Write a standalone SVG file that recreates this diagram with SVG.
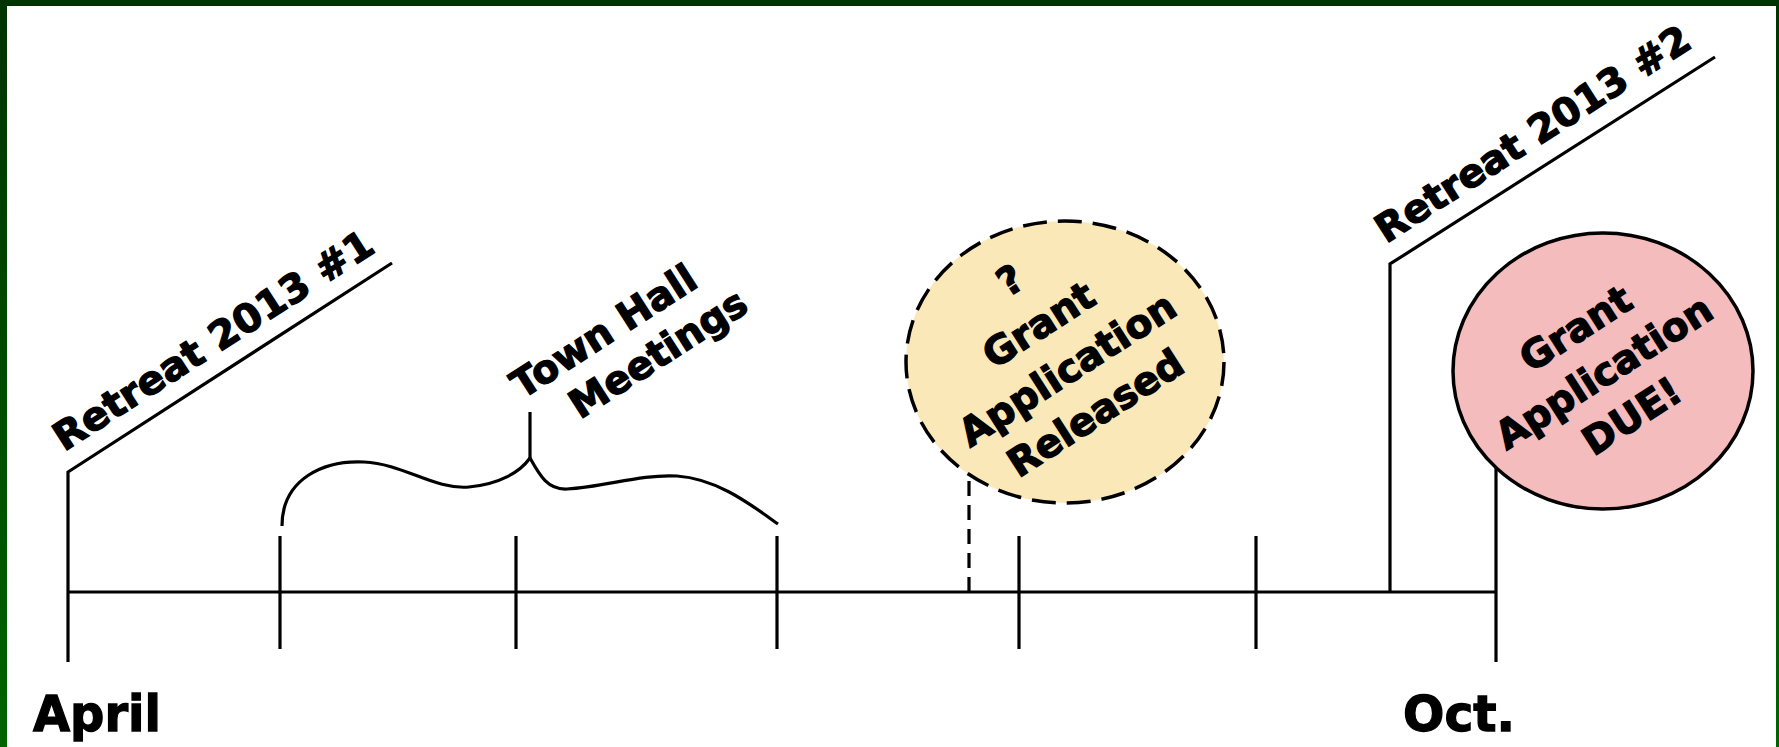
<svg xmlns="http://www.w3.org/2000/svg" width="1779" height="747" viewBox="0 0 1779 747">
<defs>
<linearGradient id="frame" x1="0" y1="0" x2="0" y2="1">
<stop offset="0" stop-color="#003300"/>
<stop offset="1" stop-color="#006400"/>
</linearGradient>
</defs>
<style>
.ln{fill:none;stroke:#000;stroke-width:3.2}
.t{font-family:"DejaVu Sans","Liberation Sans",sans-serif;font-weight:bold;fill:#000;stroke:#000;stroke-width:1.3}
.r{font-size:39px}
.c{font-size:39px;text-anchor:middle}
.m{font-size:50px}
</style>
<rect x="0" y="0" width="1779" height="747" fill="url(#frame)"/>
<rect x="7" y="6" width="1769" height="741" fill="#fff"/>
<g id="connectors">
<path class="ln" d="M68,592 H1496"/>
<path class="ln" d="M68,662 V472 L392,263"/>
<path class="ln" d="M1390,592 V264 L1715,57"/>
<path class="ln" d="M1496,662 V465"/>
<path class="ln" d="M280,536 V649 M516,536 V649 M777,536 V649 M1019,536 V649 M1256,536 V649"/>
<path class="ln" d="M969,592 V472" stroke-dasharray="15 9"/>
<path class="ln" d="M282,526 C282,478 325,460 364,462 C404,464 434,490 469,487 C500,484 520,472 530,458 C540,476 548,490 567,489 C605,487 640,474 677,476 C720,479 755,508 778,524"/>
<path class="ln" d="M530,458 V412"/>
</g>
<g id="retreat1">
<text class="t r" x="64" y="452" transform="rotate(-32.7 64 452)" textLength="372" lengthAdjust="spacingAndGlyphs">Retreat 2013 #1</text>
</g>
<g id="retreat2">
<text class="t r" x="1386" y="244" transform="rotate(-32.7 1386 244)" textLength="366" lengthAdjust="spacingAndGlyphs">Retreat 2013 #2</text>
</g>
<g id="townhall" transform="translate(611 342.7) rotate(-32.7)">
<text class="t c" x="0" y="0">Town Hall</text>
<text class="t c" x="33.6" y="48">Meetings</text>
</g>
<g id="released">
<ellipse cx="1065" cy="362" rx="159" ry="141" fill="#FBE8B8" stroke="#000" stroke-width="3.5" stroke-dasharray="24 11"/>
<g transform="translate(1065 362) rotate(-32.7)">
<text class="t c" x="-2" y="-85">?</text>
<text class="t c" x="-2" y="-32">Grant</text>
<text class="t c" x="-2" y="21">Application</text>
<text class="t c" x="-2" y="73">Released</text>
</g>
</g>
<g id="due">
<ellipse cx="1603" cy="371" rx="150" ry="138" fill="#F4BCBC" stroke="#000" stroke-width="3.5"/>
<g transform="translate(1603 371) rotate(-32.7)">
<text class="t c" x="0" y="-37">Grant</text>
<text class="t c" x="0" y="15">Application</text>
<text class="t c" x="0" y="67">DUE!</text>
</g>
</g>
<g id="april">
<text class="t m" x="33" y="731" textLength="128" lengthAdjust="spacingAndGlyphs">April</text>
</g>
<g id="oct">
<text class="t m" x="1403" y="731" textLength="112" lengthAdjust="spacingAndGlyphs">Oct.</text>
</g>
</svg>
